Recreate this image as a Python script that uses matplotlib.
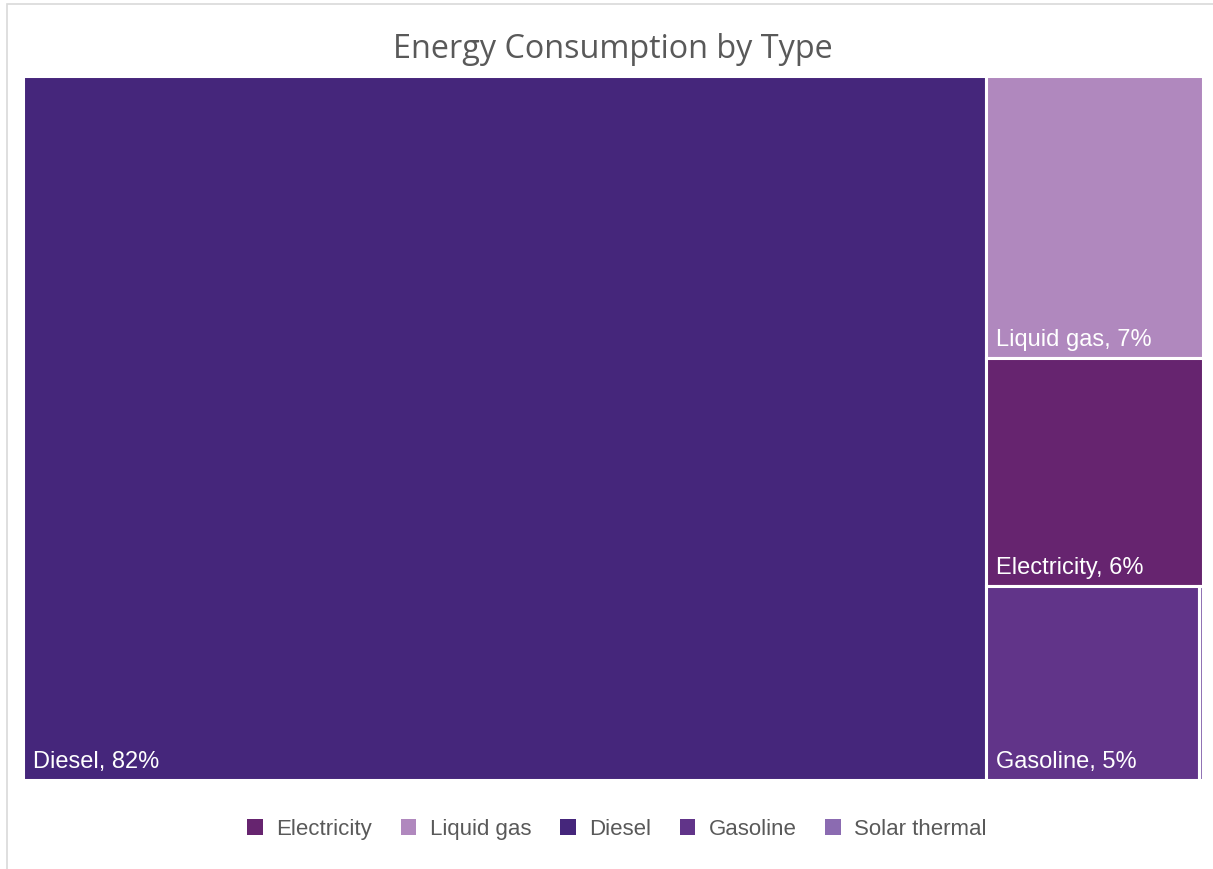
import matplotlib
matplotlib.use("Agg")
import matplotlib.pyplot as plt
from matplotlib.patches import Rectangle, Patch

categories = ["Electricity", "Liquid gas", "Diesel", "Gasoline", "Solar thermal"]
values = [5.95, 7.35, 81.6, 4.95, 0.10]
colors = ["#66246F", "#B088BE", "#45267B", "#613489", "#8B6BB1"]
title = "Energy Consumption by Type"


def worst_ratio(row, side):
    s = sum(row)
    return max(max(side * side * r / (s * s), s * s / (side * side * r)) for r in row)


def squarify(areas, x, y, w, h):
    """Squarified treemap layout; areas must already be scaled to w*h."""
    rects = []
    areas = list(areas)
    while areas:
        side = min(w, h)
        row = [areas.pop(0)]
        while areas and worst_ratio(row + [areas[0]], side) <= worst_ratio(row, side):
            row.append(areas.pop(0))
        s = sum(row)
        if w >= h:
            # column on the left, stacked top to bottom
            cw = s / h
            cy = y
            for a in row:
                rh = a / cw
                rects.append((x, cy, cw, rh))
                cy += rh
            x += cw
            w -= cw
        else:
            # row across the top, laid left to right
            rh = s / w
            cx = x
            for a in row:
                rw = a / rh
                rects.append((cx, y, rw, rh))
                cx += rw
            y += rh
            h -= rh
    return rects


W, H = 1180.0, 704.0
order = sorted(range(len(values)), key=lambda i: -values[i])
total = sum(values)
scaled = [values[i] / total * W * H for i in order]
layout = squarify(scaled, 0.0, 0.0, W, H)

fig = plt.figure(figsize=(12.13, 8.70), dpi=100)
fig.patch.set_facecolor("white")

# light chart-area frame (runs off the right and bottom edges)
fig.add_artist(Rectangle((7 / 1213, -10 / 870), 1230 / 1213, 875 / 870,
                         transform=fig.transFigure, fill=False,
                         edgecolor="#D9D9D9", linewidth=1.2))

ax = fig.add_axes([23 / 1213, 1 - 781 / 870, W / 1213, H / 870])
ax.set_xlim(0, W)
ax.set_ylim(H, 0)
ax.axis("off")

for idx, (rx, ry, rw, rh) in zip(order, layout):
    ax.add_patch(Rectangle((rx, ry), rw, rh, facecolor=colors[idx],
                           edgecolor="white", linewidth=2.2))
    pct = round(values[idx] / total * 100)
    if rw > 60 and rh > 40:
        ax.text(rx + 10, ry + rh - 13, f"{categories[idx]}, {pct}%",
                color="white", fontsize=17, family="Liberation Sans",
                ha="left", va="baseline")

fig.text(613 / 1213, 1 - 49 / 870, title, ha="center", va="center",
         fontsize=23.3, color="#595959", family="Open Sans")

handles = [Patch(facecolor=c, edgecolor="none") for c in colors]
leg = fig.legend(handles, categories, loc="center", ncol=5,
                 bbox_to_anchor=(617 / 1213, 1 - 830 / 870), frameon=False,
                 handlelength=0.7, handleheight=0.7, handletextpad=0.6,
                 columnspacing=1.3,
                 prop={"family": "Liberation Sans", "size": 16})
for t in leg.get_texts():
    t.set_color("#595959")

fig.savefig("out.png", dpi=100, facecolor="white")
